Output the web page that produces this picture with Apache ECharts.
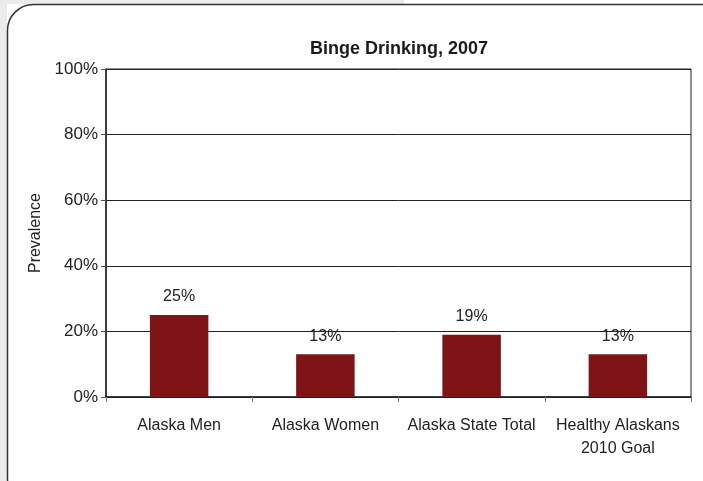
<!DOCTYPE html>
<html><head><meta charset="utf-8">
<script src="https://cdn.jsdelivr.net/npm/echarts@6/dist/echarts.min.js"></script>
<style>html,body{margin:0;padding:0;background:#fff}#c{width:703px;height:481px}</style>
</head><body><div id="c"></div>
<script>
const categories = ["Alaska Men", "Alaska Women", "Alaska State Total", "Healthy Alaskans\n2010 Goal"];
const values = [25, 13, 19, 13];
const yTicks = [0, 20, 40, 60, 80, 100];

const F = 'Liberation Sans, Arial';
const chart = echarts.init(document.getElementById('c'), null, {renderer: 'canvas'});
chart.setOption({
  animation: false,
  backgroundColor: '#ffffff',
  graphic: [
    {type: 'rect', z: -10, shape: {x: 0, y: 0, width: 7, height: 481}, style: {fill: '#ebebeb'}},
    {type: 'rect', z: -10, shape: {x: 0, y: 0, width: 404, height: 4}, style: {fill: '#ebebeb'}},
    {type: 'rect', z: -5, shape: {x: 7.5, y: 4.5, width: 720, height: 500, r: 26},
     style: {fill: '#ffffff', stroke: '#333', lineWidth: 1.5}}
  ],
  title: {
    text: 'Binge Drinking, 2007',
    left: 394, top: 35, textAlign: 'center',
    textStyle: {fontFamily: F, fontSize: 18, fontWeight: 'bold', color: '#1a1a1a'}
  },
  grid: {left: 106, right: 12, top: 69, bottom: 84, show: true, borderColor: '#222', borderWidth: 1, backgroundColor: 'transparent'},
  xAxis: {
    type: 'category', data: categories,
    axisLine: {lineStyle: {color: '#222', width: 1.5}},
    axisTick: {show: true, length: 5, lineStyle: {color: '#777'}},
    axisLabel: {fontFamily: F, fontSize: 16, color: '#222', margin: 17, lineHeight: 23, interval: 0}
  },
  yAxis: {
    type: 'value', min: 0, max: 100, interval: 20,
    name: 'Prevalence', nameLocation: 'middle', nameGap: 62,
    nameTextStyle: {fontFamily: F, fontSize: 16, color: '#222'},
    axisLine: {show: true, lineStyle: {color: '#222', width: 1.5}},
    axisTick: {show: true, length: 5, lineStyle: {color: '#555'}},
    axisLabel: {fontFamily: F, fontSize: 17, color: '#222', margin: 8,
      formatter: v => yTicks.includes(v) ? v + '%' : ''},
    splitLine: {show: true, lineStyle: {color: '#222', width: 1}}
  },
  series: [{
    type: 'bar', data: values, barWidth: '40%',
    itemStyle: {color: '#7f1416'},
    label: {show: true, position: 'top', distance: 10, formatter: p => p.value + '%',
      fontFamily: F, fontSize: 16, color: '#222'}
  }]
});
</script></body></html>
